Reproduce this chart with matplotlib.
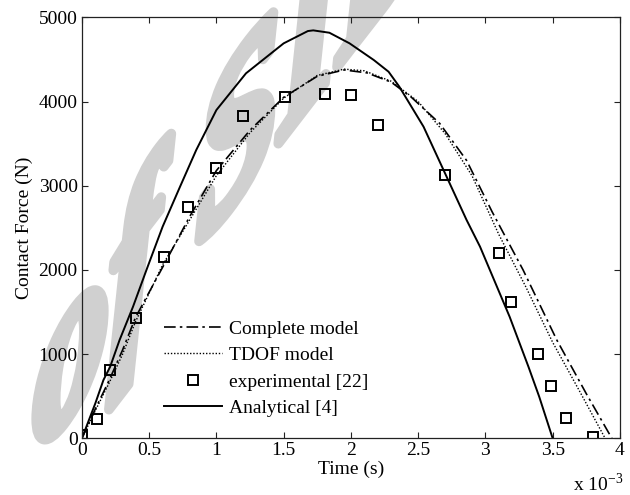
import matplotlib.pyplot as plt
from matplotlib.font_manager import FontProperties
from matplotlib.patches import PathPatch
from matplotlib.textpath import TextPath
from matplotlib.transforms import Affine2D

plt.rcParams['font.family'] = ['Liberation Serif', 'DejaVu Serif']
plt.rcParams['mathtext.fontset'] = 'custom'
plt.rcParams['mathtext.rm'] = 'Liberation Serif'

# time in ms (axis shows x 10^-3 s), force in N
t_complete = [0, 0.1, 0.2, 0.3, 0.4, 0.63, 0.8, 1.0, 1.25, 1.5, 1.75, 1.95,
              2.12, 2.3, 2.45, 2.66, 2.86, 3.05, 3.28, 3.53, 3.75, 3.94]
f_complete = [0, 350, 680, 1040, 1440, 2120, 2630, 3180, 3660, 4050, 4300, 4375,
              4340, 4230, 4050, 3740, 3300, 2690, 2000, 1170, 530, 0]

t_tdof = [0, 0.1, 0.2, 0.3, 0.4, 0.6, 0.8, 1.0, 1.25, 1.5, 1.75, 1.95,
          2.1, 2.3, 2.5, 2.7, 2.9, 3.1, 3.3, 3.5, 3.7, 3.89]
f_tdof = [0, 330, 650, 990, 1390, 2060, 2590, 3120, 3630, 4040, 4310, 4385,
          4365, 4240, 4000, 3620, 3120, 2420, 1800, 1140, 560, 0]

t_exp = [0.0, 0.11, 0.21, 0.40, 0.61, 0.79, 1.0, 1.20, 1.51, 1.81, 2.0, 2.20,
         2.70, 3.10, 3.19, 3.39, 3.49, 3.60, 3.80]
f_exp = [40, 233, 808, 1432, 2157, 2750, 3207, 3824, 4053, 4085, 4081, 3717,
         3127, 2201, 1615, 1001, 617, 245, 19]

t_analytic = [0, 0.1, 0.16, 0.21, 0.28, 0.38, 0.48, 0.6, 0.73, 0.85, 1.0, 1.22,
              1.5, 1.68, 1.72, 1.84, 1.99, 2.17, 2.28, 2.36, 2.54, 2.70, 2.86,
              2.96, 3.18, 3.32, 3.40, 3.50]
f_analytic = [0, 416, 692, 850, 1167, 1563, 2000, 2513, 2990, 3424, 3899, 4335,
              4691, 4837, 4845, 4817, 4691, 4493, 4354, 4176, 3701, 3147, 2593,
              2276, 1444, 850, 494, 0]

fig = plt.figure(figsize=(6.3, 4.95), dpi=100)
ax = fig.add_axes([0.130, 0.1145, 0.854, 0.8505])
ax.set_facecolor('none')

# grey sheared watermark in figure pixels, behind the axes
wm_font = FontProperties(family='Liberation Serif', style='italic', weight='bold')
wm = TextPath((0, 0), 'Archive of SID', size=1, prop=wm_font)
o_w = TextPath((0, 0), 'o', size=1, prop=wm_font).get_extents().width
o_cx = TextPath((0, 0), 'Archive o', size=1, prop=wm_font).get_extents().xmax - o_w / 2
sx, sy, k = 150, 215, 1.3
cx, cy = 70, 130          # where the centre of the "o" sits
x0 = cx - sx * o_cx
y0 = cy - k * sx * o_cx - 0.23 * sy
shear = Affine2D.from_values(sx, k * sx, 0, sy, x0, y0)
fig.add_artist(PathPatch(wm, transform=shear, facecolor='#d0d0d0',
                         edgecolor='#d0d0d0', lw=7, joinstyle='round',
                         zorder=-1))

ax.plot(t_complete, f_complete, color='black', lw=1.2,
        dashes=(7, 2.5, 1.5, 2.5), label='Complete model')
ax.plot(t_tdof, f_tdof, color='black', lw=1.0, dashes=(1, 1.3),
        label='TDOF model')
ax.plot(t_exp, f_exp, ls='none', marker='s', ms=7, mfc='none', mec='black',
        mew=1.4, label='experimental [22]')
ax.plot(t_analytic, f_analytic, color='black', lw=1.4, label='Analytical [4]')

ax.set_xlim(0, 4)
ax.set_ylim(0, 5000)
ax.set_xticks([0, 0.5, 1, 1.5, 2, 2.5, 3, 3.5, 4])
ax.set_xticklabels(['0', '0.5', '1', '1.5', '2', '2.5', '3', '3.5', '4'])
ax.set_yticks([0, 1000, 2000, 3000, 4000, 5000])
ax.tick_params(direction='in', length=4, width=0.8, top=True, right=True,
               labelsize=14, pad=3, colors='#222222', labelcolor='black')
for s in ax.spines.values():
    s.set_linewidth(0.9)
    s.set_color('#222222')

ax.set_xlabel('Time (s)', fontsize=14, labelpad=1)
ax.set_ylabel('Contact Force (N)', fontsize=14, labelpad=4)
fig.text(0.91, 0.008, r'x 10$^{-3}$', fontsize=14, ha='left', va='baseline')

ax.legend(loc='lower left', bbox_to_anchor=(0.152, 0.05), frameon=False,
          fontsize=14, handlelength=3.0, handletextpad=0.35, labelspacing=0.46,
          borderpad=0, borderaxespad=0)

fig.savefig('out.png', dpi=100)
